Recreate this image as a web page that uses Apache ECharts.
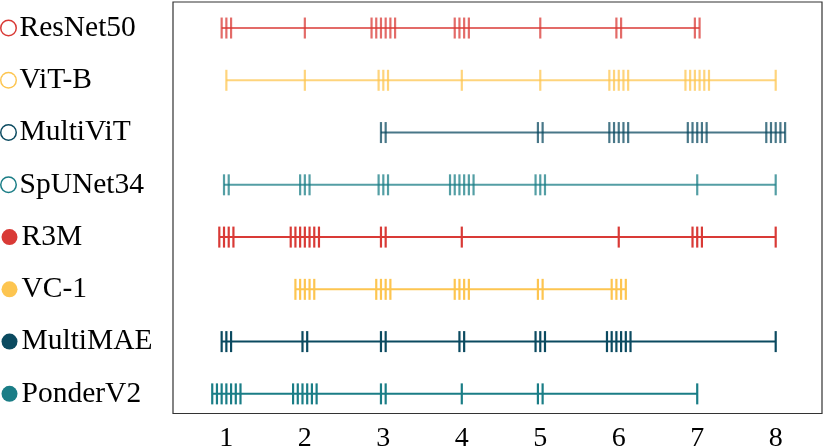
<!DOCTYPE html>
<html>
<head>
<meta charset="utf-8">
<script src="https://cdn.jsdelivr.net/npm/echarts@6/dist/echarts.min.js"></script>
<style>html,body{margin:0;padding:0;background:#fff;}#c{width:830px;height:447px;}</style>
</head>
<body>
<div id="c"></div>
<script>
// ---- data ----
const xTicks = [1, 2, 3, 4, 5, 6, 7, 8];
const models = ['ResNet50', 'ViT-B', 'MultiViT', 'SpUNet34', 'R3M', 'VC-1', 'MultiMAE', 'PonderV2'];
// number of marks at each x tick (1..8)
const resnet50Counts = [3, 1, 6, 4, 1, 2, 2, 0];
const vitbCounts     = [1, 1, 3, 1, 1, 5, 6, 1];
const multivitCounts = [0, 0, 2, 0, 2, 5, 5, 5];
const spunet34Counts = [2, 3, 3, 6, 3, 0, 1, 1];
const r3mCounts      = [4, 7, 2, 1, 0, 1, 3, 1];
const vc1Counts      = [0, 5, 4, 4, 2, 4, 0, 0];
const multimaeCounts = [3, 2, 2, 2, 3, 6, 0, 1];
const ponderv2Counts = [7, 6, 2, 1, 2, 0, 1, 0];
const allCounts = [resnet50Counts, vitbCounts, multivitCounts, spunet34Counts, r3mCounts, vc1Counts, multimaeCounts, ponderv2Counts];

// ---- style ----
const RED = '#d93a36', YEL = '#fdc550', DARK = '#0b4a60', TEAL = '#1a7d86';
const colors = [RED, YEL, DARK, TEAL, RED, YEL, DARK, TEAL];
const hollow = [true, true, true, true, false, false, false, false];
const SPREAD = 0.06;
const XMIN = 0.32, XMAX = 8.59;

const rich = { t: { fontSize: 29.5, fontFamily: 'Liberation Serif', color: '#000', padding: [0, 0, 0, 4] } };
models.forEach((m, i) => {
  rich['m' + i] = hollow[i]
    ? { width: 14, height: 14, borderRadius: 8, borderColor: colors[i], borderWidth: 1.5, backgroundColor: '#fff' }
    : { width: 16, height: 16, borderRadius: 8, backgroundColor: colors[i] };
});

const series = [];
models.forEach((m, i) => {
  const pts = [];
  allCounts[i].forEach((n, k) => {
    for (let j = 0; j < n; j++) pts.push([xTicks[k] + (j - (n - 1) / 2) * SPREAD, m]);
  });
  const xs = pts.map(p => p[0]);
  const op = hollow[i] ? 0.75 : 1;
  series.push({
    type: 'line', xAxisIndex: 0, yAxisIndex: 0, silent: true, symbol: 'none',
    lineStyle: { color: colors[i], width: 2, opacity: op },
    data: [[Math.min(...xs), m], [Math.max(...xs), m]], z: 2
  });
  series.push({
    type: 'scatter', xAxisIndex: 0, yAxisIndex: 0, silent: true, symbol: 'rect', symbolSize: [2.2, 21],
    itemStyle: { color: colors[i], opacity: op }, data: pts, z: 3
  });
});

const chart = echarts.init(document.getElementById('c'));
chart.setOption({
  animation: false,
  grid: [
    { left: 173, right: 8, top: 1.9, bottom: 27, show: false, outerBoundsMode: 'none', containLabel: false },
    { left: 173, right: 8, top: 2, bottom: 33.5, show: true, borderColor: '#333', borderWidth: 1.2, backgroundColor: 'transparent', outerBoundsMode: 'none', containLabel: false }
  ],
  xAxis: [
    { gridIndex: 0, type: 'value', min: XMIN, max: XMAX, show: false },
    { gridIndex: 1, type: 'value', min: XMIN, max: XMAX,
      axisLine: { show: false }, axisTick: { show: false }, splitLine: { show: false },
      axisLabel: { customValues: xTicks, fontSize: 28, fontFamily: 'Liberation Serif', color: '#000', margin: 11 } }
  ],
  yAxis: [
    { gridIndex: 0, type: 'category', data: models, inverse: true,
      axisLine: { show: false }, axisTick: { show: false }, splitLine: { show: false },
      axisLabel: { align: 'left', margin: 171.5, rich: rich,
        formatter: (v, idx) => '{m' + idx + '|}{t|' + v + '}' } },
    { gridIndex: 1, type: 'value', show: false }
  ],
  series: series
});
</script>
</body>
</html>
